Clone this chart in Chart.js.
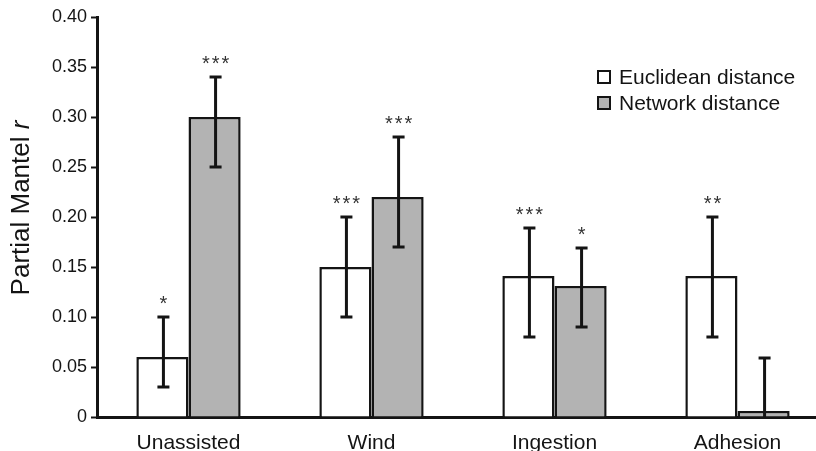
<!DOCTYPE html>
<html lang="en">
<head>
  <meta charset="UTF-8">
  <title>Partial Mantel r</title>
  <script src="https://cdn.jsdelivr.net/npm/chart.js"></script>
  <style>
    html, body { margin: 0; padding: 0; background: #fff; overflow: hidden; }
    .wrap { width: 830px; height: 451px; }
  </style>
</head>
<body>
  <div class="wrap"><canvas id="mantelChart"></canvas></div>
  <script>
    const categories = ['Unassisted', 'Wind', 'Ingestion', 'Adhesion'];
    const seriesNames = ['Euclidean distance', 'Network distance'];

    const euclidean = [0.06, 0.15, 0.141, 0.141];
    const euclideanLow = [0.03, 0.10, 0.08, 0.08];
    const euclideanHigh = [0.10, 0.20, 0.189, 0.20];
    const euclideanStars = ['*', '***', '***', '**'];

    const network = [0.30, 0.22, 0.131, 0.006];
    const networkLow = [0.25, 0.17, 0.09, -0.047];
    const networkHigh = [0.34, 0.28, 0.169, 0.059];
    const networkStars = ['***', '***', '*', ''];

    const yTicks = [0, 0.05, 0.10, 0.15, 0.20, 0.25, 0.30, 0.35, 0.40];

    const ink = '#141414';
    const font = '"Liberation Sans", Arial, Helvetica, sans-serif';

    // error bars + significance stars, placed through the y scale
    const errorBars = {
      id: 'errorBars',
      afterDatasetsDraw(chart) {
        const ctx = chart.ctx;
        const y = chart.scales.y;
        const area = chart.chartArea;
        chart.data.datasets.forEach((ds, i) => {
          const meta = chart.getDatasetMeta(i);
          meta.data.forEach((bar, j) => {
            const x = bar.x + 1;
            const top = y.getPixelForValue(ds.errHigh[j]);
            let bottom = y.getPixelForValue(ds.errLow[j]);
            const clipped = bottom > area.bottom;
            if (clipped) bottom = area.bottom;
            ctx.save();
            ctx.strokeStyle = ink;
            ctx.lineWidth = 3;
            ctx.beginPath();
            ctx.moveTo(x, top);
            ctx.lineTo(x, bottom);
            ctx.moveTo(x - 6, top);
            ctx.lineTo(x + 6, top);
            if (!clipped) {
              ctx.moveTo(x - 6, bottom);
              ctx.lineTo(x + 6, bottom);
            }
            ctx.stroke();
            if (ds.stars[j]) {
              ctx.fillStyle = '#333';
              ctx.font = '20px ' + font;
              ctx.letterSpacing = '2px';
              ctx.textAlign = 'center';
              ctx.textBaseline = 'alphabetic';
              ctx.fillText(ds.stars[j], x + 1, top - 7);
            }
            ctx.restore();
          });
        });
      }
    };

    // y title with italic r, and the legend box at upper right
    const extras = {
      id: 'extras',
      afterDraw(chart) {
        const ctx = chart.ctx;
        const area = chart.chartArea;
        ctx.save();
        ctx.translate(22, (area.top + area.bottom) / 2 - 9);
        ctx.rotate(-Math.PI / 2);
        ctx.fillStyle = ink;
        ctx.textBaseline = 'middle';
        const plain = 'Partial Mantel ';
        ctx.font = '26px ' + font;
        const w1 = ctx.measureText(plain).width;
        ctx.font = 'italic 26px ' + font;
        const w2 = ctx.measureText('r').width;
        const start = -(w1 + w2) / 2;
        ctx.font = '26px ' + font;
        ctx.textAlign = 'left';
        ctx.fillText(plain, start, 0);
        ctx.font = 'italic 26px ' + font;
        ctx.fillText('r', start + w1, 0);
        ctx.restore();

        ctx.save();
        chart.data.datasets.forEach((ds, i) => {
          const cy = 77 + i * 26;
          ctx.fillStyle = ds.backgroundColor;
          ctx.fillRect(598, cy - 6, 12, 12);
          ctx.strokeStyle = ink;
          ctx.lineWidth = 2;
          ctx.strokeRect(598, cy - 6, 12, 12);
          ctx.fillStyle = ink;
          ctx.font = '21px ' + font;
          ctx.textAlign = 'left';
          ctx.textBaseline = 'middle';
          ctx.fillText(ds.label, 619, cy + 1);
        });
        ctx.restore();
      }
    };

    const ctx = document.getElementById('mantelChart').getContext('2d');
    const chart = new Chart(ctx, {
      type: 'bar',
      data: {
        labels: categories,
        datasets: [{
          label: seriesNames[0],
          data: euclidean,
          errLow: euclideanLow,
          errHigh: euclideanHigh,
          stars: euclideanStars,
          backgroundColor: '#ffffff',
          borderColor: ink,
          borderWidth: 2.5,
          borderSkipped: 'bottom'
        }, {
          label: seriesNames[1],
          data: network,
          errLow: networkLow,
          errHigh: networkHigh,
          stars: networkStars,
          backgroundColor: '#b3b3b3',
          borderColor: ink,
          borderWidth: 2.5,
          borderSkipped: 'bottom'
        }]
      },
      options: {
        responsive: true,
        maintainAspectRatio: false,
        animation: false,
        layout: { padding: { top: 17, right: 1, left: 0, bottom: 0 } },
        plugins: {
          legend: { display: false },
          tooltip: { enabled: false }
        },
        datasets: {
          bar: { categoryPercentage: 0.57, barPercentage: 1.0 }
        },
        scales: {
          x: {
            grid: { display: false },
            border: { color: ink, width: 3 },
            ticks: {
              color: ink,
              padding: 6,
              font: { family: font, size: 21 }
            },
            afterFit(scale) { scale.height = 34; }
          },
          y: {
            min: 0,
            max: 0.40,
            afterBuildTicks(scale) {
              scale.ticks = yTicks.map(v => ({ value: v }));
            },
            grid: {
              drawOnChartArea: false,
              drawTicks: true,
              tickLength: 6,
              tickWidth: 2,
              tickColor: ink
            },
            border: { color: ink, width: 3 },
            ticks: {
              color: ink,
              padding: 4,
              font: { family: font, size: 18 },
              callback: v => v === 0 ? '0' : v.toFixed(2)
            },
            afterFit(scale) { scale.width = 97; }
          }
        }
      },
      plugins: [errorBars, extras]
    });
  </script>
</body>
</html>
